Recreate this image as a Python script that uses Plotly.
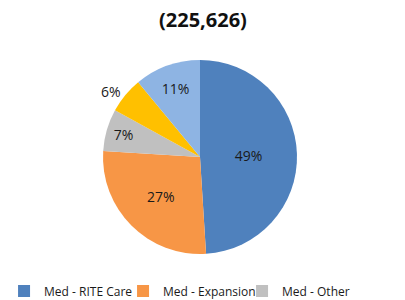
import plotly.graph_objects as go

labels = ["Med - RITE Care", "Med - Expansion", "Med - Other", "Commercial", "Uninsured"]
values = [49, 27, 7, 6, 11]
colors = ["#4F81BD", "#F79646", "#C0C0C0", "#FFC000", "#8EB4E3"]
text_positions = ["inside", "inside", "inside", "outside", "inside"]
title_text = "<b>(225,626)</b>"

fig = go.Figure(go.Pie(
    labels=labels,
    values=values,
    marker=dict(colors=colors, line=dict(width=0)),
    sort=False,
    direction="clockwise",
    rotation=0,
    texttemplate="%{percent:.0%}",
    textposition=text_positions,
    insidetextorientation="horizontal",
    textfont=dict(family="Open Sans", size=14, color="#1a1a1a"),
    domain=dict(x=[0, 400/405], y=[46/300, 240/300]),
    hoverinfo="label+percent",
))

fig.update_layout(
    width=405, height=300,
    margin=dict(l=0, r=0, t=0, b=0, autoexpand=False),
    paper_bgcolor="white",
    font=dict(family="Open Sans", color="#1a1a1a"),
    annotations=[dict(text=title_text, x=0.5, y=1 - 19/300, xref="paper", yref="paper",
                      showarrow=False, font=dict(size=20, color="#111"), yanchor="middle")],
    showlegend=True,
    legend=dict(orientation="h", x=0.01, xanchor="left", y=0.078, yanchor="top",
                font=dict(size=12, color="#1a1a1a"), entrywidth=74, entrywidthmode="pixels",
                itemwidth=30, traceorder="normal"),
)

fig.write_html("out.html")
